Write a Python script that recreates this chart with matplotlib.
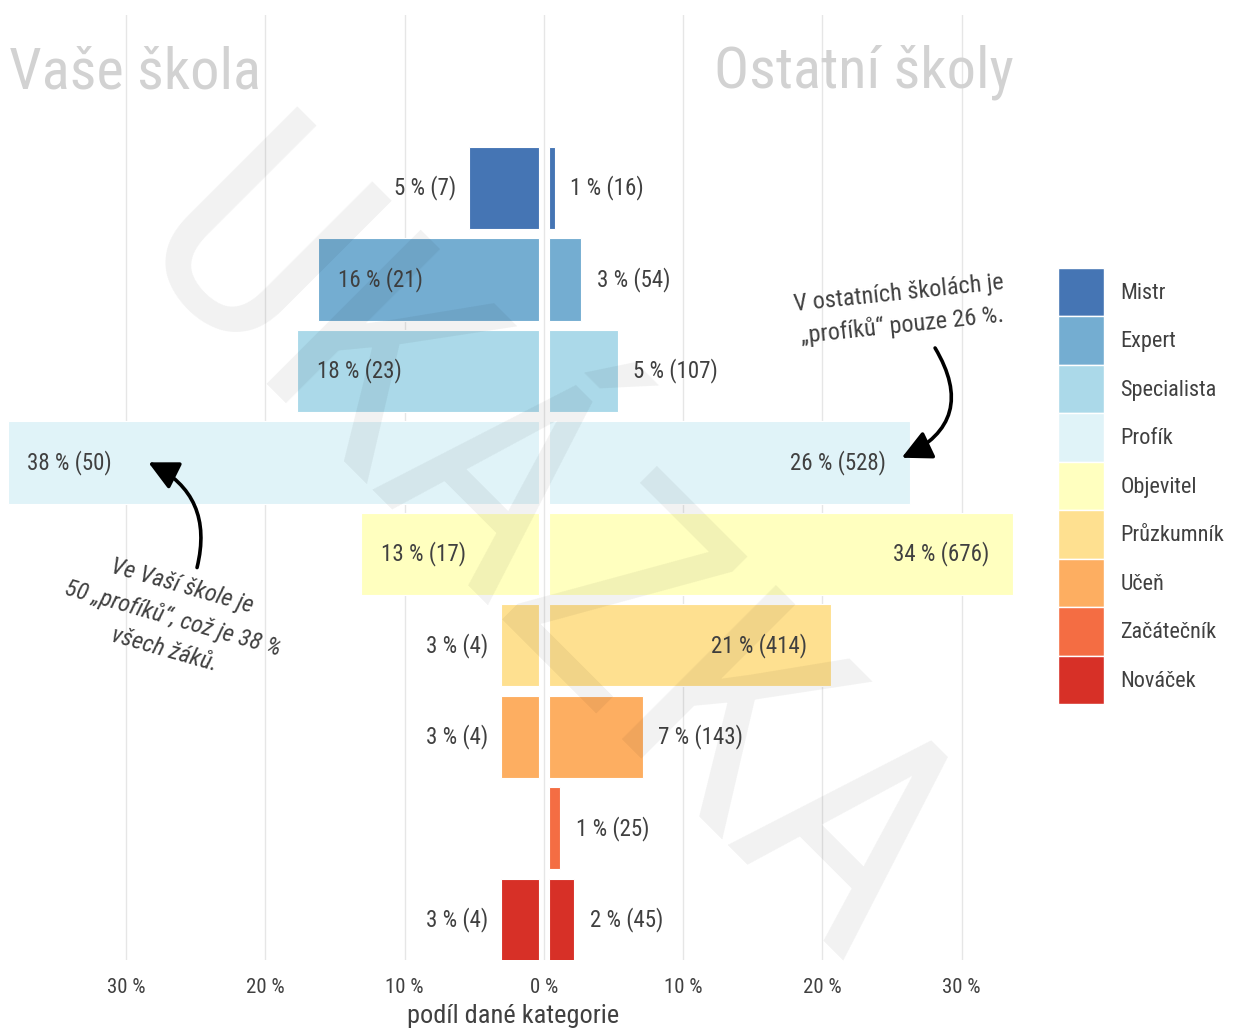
import matplotlib
matplotlib.use("Agg")
import matplotlib.pyplot as plt
from matplotlib import font_manager
from matplotlib.patches import Patch

# --- data -------------------------------------------------------------------
categories = ["Mistr", "Expert", "Specialista", "Profík", "Objevitel",
              "Průzkumník", "Učeň", "Začátečník", "Nováček"]
vase_pct = [5.4, 16.2, 17.7, 38.5, 13.1, 3.1, 3.1, 0.0, 3.1]
vase_n = [7, 21, 23, 50, 17, 4, 4, 0, 4]
ostatni_pct = [0.8, 2.7, 5.3, 26.3, 33.7, 20.6, 7.1, 1.2, 2.2]
ostatni_n = [16, 54, 107, 528, 676, 414, 143, 25, 45]
tick_values = [-30, -20, -10, 0, 10, 20, 30]
colors = ["#4575b4", "#74add1", "#abd9e9", "#e0f3f8", "#ffffbf",
          "#fee090", "#fdae61", "#f46d43", "#d73027"]

TEXT = "#404040"
GAP = 0.35        # white gap either side of zero
INSIDE_MIN = 10   # bars wider than this get their label inside


def pick_font(cands):
    have = {f.name for f in font_manager.fontManager.ttflist}
    for c in cands:
        if c in have:
            return c
    return "DejaVu Sans"


FONT = pick_font(["Ubuntu Condensed", "Liberation Sans Narrow", "Roboto Condensed",
                  "Open Sans Condensed", "Roboto", "DejaVu Sans"])
plt.rcParams["font.family"] = [FONT, "DejaVu Sans"]

W, H = 1234, 1029
fig = plt.figure(figsize=(W / 100, H / 100), dpi=100)
ax = fig.add_axes([0 / W, 1 - 960 / H, 1027 / W, 945 / H])

n = len(categories)
ypos = [n - 1 - i for i in range(n)]

for i, y in enumerate(ypos):
    lp, rp = vase_pct[i], ostatni_pct[i]
    if vase_n[i] > 0:
        ax.barh(y, -(lp - GAP), left=-GAP, height=0.9, color=colors[i],
                edgecolor="white", linewidth=0.8, zorder=2)
        lab = f"{lp:.0f} % ({vase_n[i]})"
        if lp > INSIDE_MIN:
            ax.text(-lp + 1.4, y, lab, ha="left", va="center", fontsize=16.5,
                    color=TEXT, zorder=3)
        else:
            ax.text(-lp - 0.9, y, lab, ha="right", va="center", fontsize=16.5,
                    color=TEXT, zorder=3)
    ax.barh(y, rp - GAP, left=GAP, height=0.9, color=colors[i],
            edgecolor="white", linewidth=0.8, zorder=2)
    lab = f"{rp:.0f} % ({ostatni_n[i]})"
    if rp > INSIDE_MIN:
        ax.text(rp - 1.7, y, lab, ha="right", va="center", fontsize=16.5,
                color=TEXT, zorder=3)
    else:
        ax.text(rp + 1.1, y, lab, ha="left", va="center", fontsize=16.5,
                color=TEXT, zorder=3)

ax.set_xlim(-39.05, 34.7)
ax.set_ylim(-0.44, n - 1 + 1.89)
ax.set_xticks(tick_values)
ax.set_xticklabels([f"{abs(v)} %" for v in tick_values])
ax.set_yticks([])
ax.tick_params(axis="x", length=0, labelsize=15, labelcolor=TEXT, pad=13)
ax.grid(axis="x", color="#e6e6e6", linewidth=1, zorder=0)
ax.set_axisbelow(True)
for s in ax.spines.values():
    s.set_visible(False)
ax.set_xlabel("podíl dané kategorie", fontsize=19, color=TEXT, labelpad=5)

# panel titles
ax.text(-38.4, n - 1 + 1.26, "Vaše škola", ha="left", va="center",
        fontsize=42, color="#d2d2d2", zorder=1)
ax.text(23.0, n - 1 + 1.26, "Ostatní školy", ha="center", va="center",
        fontsize=42, color="#d2d2d2", zorder=1)

# annotations
ax.text(25.6, 6.67, "V ostatních školách je\n„profíků“ pouze 26 %.",
        ha="center", va="center", fontsize=17.5, color=TEXT, rotation=6,
        linespacing=1.45, zorder=4)
ax.annotate("", xy=(25.7, 5.05), xytext=(28.1, 6.25),
            arrowprops=dict(arrowstyle="-|>,head_length=0.9,head_width=0.45",
                            connectionstyle="arc3,rad=-0.55", color="black",
                            lw=2.6, mutation_scale=20, shrinkA=0, shrinkB=0),
            zorder=5)
ax.text(-26.6, 3.3, "Ve Vaší škole je\n50 „profíků“, což je 38 %\nvšech žáků.",
        ha="center", va="center", fontsize=17.5, color=TEXT, rotation=-16,
        style="italic", linespacing=1.5, zorder=4)
ax.annotate("", xy=(-28.4, 5.0), xytext=(-24.9, 3.85),
            arrowprops=dict(arrowstyle="-|>,head_length=0.9,head_width=0.45",
                            connectionstyle="arc3,rad=0.4", color="black",
                            lw=2.6, mutation_scale=20, shrinkA=0, shrinkB=0),
            zorder=5)

# watermark
fig.text(542 / W, 1 - 560 / H, "UKÁZKA", ha="center", va="center",
         rotation=-45, fontsize=220, color="black", alpha=0.055, zorder=10,
         fontweight="normal")

# legend
handles = [Patch(facecolor=c, edgecolor="white", linewidth=1, label=l)
           for c, l in zip(colors, categories)]
fig.legend(handles=handles, loc="upper left",
           bbox_to_anchor=(1058 / W, 1 - 268 / H), frameon=False,
           fontsize=16, handlelength=2.05, handleheight=2.98, labelspacing=0,
           handletextpad=0.75, borderpad=0, borderaxespad=0, labelcolor=TEXT)

fig.savefig("out.png", dpi=100)
